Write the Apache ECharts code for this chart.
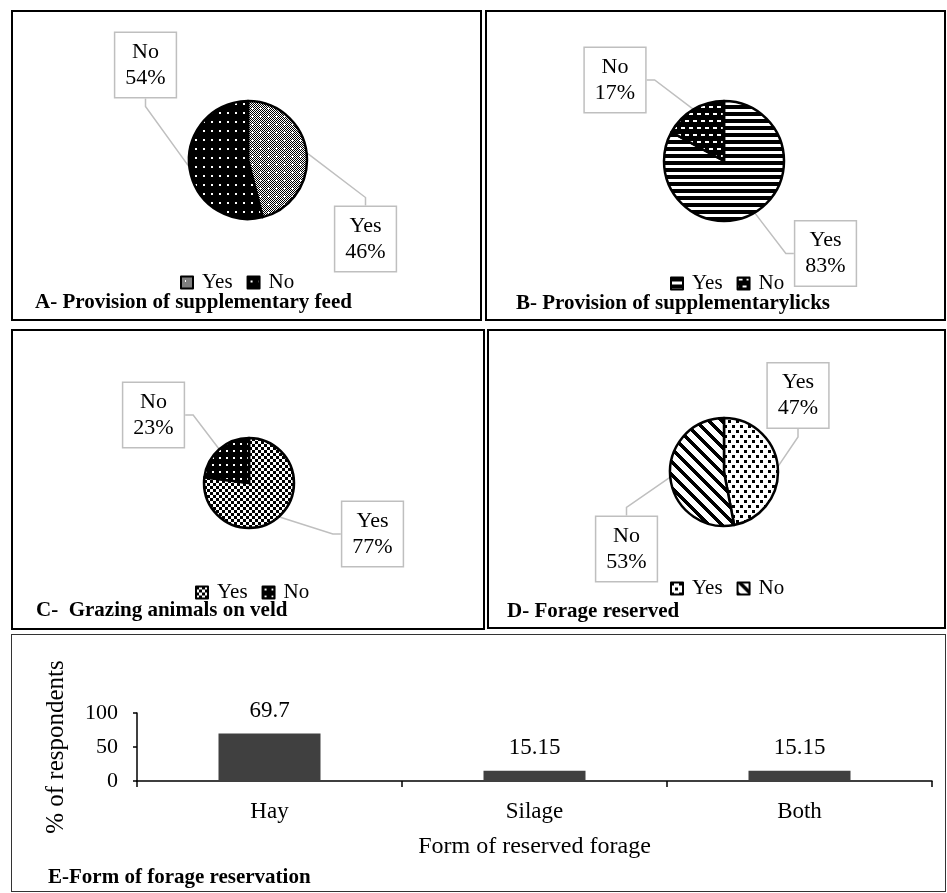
<!DOCTYPE html>
<html><head><meta charset="utf-8">
<script src="https://cdn.jsdelivr.net/npm/echarts@6/dist/echarts.min.js"></script>
<style>
html,body{margin:0;padding:0;background:#fff;}
#wrap{position:relative;width:947px;height:893px;overflow:hidden;background:#fff;}
.frame{position:absolute;box-sizing:border-box;border:2px solid #000;}
.chart{position:absolute;left:0;top:0;width:947px;height:893px;}
</style></head><body>
<div id="wrap">
<div class="frame" style="left:11px;top:10px;width:471px;height:311px"></div>
<div class="frame" style="left:485px;top:10px;width:461px;height:311px"></div>
<div class="frame" style="left:11px;top:329px;width:474px;height:301px"></div>
<div class="frame" style="left:487px;top:329px;width:459px;height:300px"></div>
<div class="frame" style="left:11px;top:634px;width:935px;height:258px;border:1.5px solid #333"></div>
<div id="cA" class="chart"></div>
<div id="cB" class="chart"></div>
<div id="cC" class="chart"></div>
<div id="cD" class="chart"></div>
<div id="cE" class="chart"></div>
</div>
<script>
// ---------- data ----------
const sliceNames = ['Yes', 'No'];
const feedValues = [46, 54];
const licksValues = [83, 17];
const grazingValues = [77, 23];
const reservedValues = [47, 53];
const forageForms = ['Hay', 'Silage', 'Both'];
const forageShares = [69.7, 15.15, 15.15];
const titles = {
  A: 'A- Provision of supplementary feed',
  B: 'B- Provision of supplementarylicks',
  C: 'C-  Grazing animals on veld',
  D: 'D- Forage reserved',
  E: 'E-Form of forage reservation'
};

const FONT = '"Liberation Serif", "Times New Roman", serif';

// ---------- fill patterns ----------
function tile(w, h, fn) {
  const c = document.createElement('canvas');
  c.width = w; c.height = h;
  const ctx = c.getContext('2d');
  const img = ctx.createImageData(w, h);
  for (let y = 0; y < h; y++) for (let x = 0; x < w; x++) {
    const v = fn(x, y) ? 0 : 255;
    const i = (y * w + x) * 4;
    img.data[i] = img.data[i + 1] = img.data[i + 2] = v;
    img.data[i + 3] = 255;
  }
  ctx.putImageData(img, 0, 0);
  return { image: c, repeat: 'repeat' };
}
const pat = {
  aYes: tile(8, 8, (x, y) => {
    const plus = (x === 4 && y >= 3 && y <= 5) || (y === 4 && x >= 3 && x <= 5);
    return !plus && (x + y) % 2 === 0;
  }),
  aNo: tile(8, 9, (x, y) => !(x >= 3 && x <= 4 && y >= 4 && y <= 5)),
  bYes: tile(8, 7, (x, y) => y < 4),
  bNo: tile(8, 14, (x, y) => !((x >= 1 && x <= 4 && y >= 1 && y <= 2) || (((x - 5 + 8) % 8) < 4 && y >= 8 && y <= 9))),
  cYes: tile(6, 6, (x, y) => (Math.floor(x / 3) + Math.floor(y / 3)) % 2 === 0),
  cNo: tile(7, 7, (x, y) => !(x >= 2 && x <= 3 && y >= 2 && y <= 3)),
  dYes: tile(8, 10, (x, y) => (x <= 2 && y <= 2) || (x >= 4 && x <= 6 && y >= 5 && y <= 7)),
  dNo: tile(13, 13, (x, y) => (((x - y) % 13) + 13) % 13 < 5)
};

// ---------- pie builder ----------
function pieOption(cfg) {
  return {
    animation: false,
    legend: {
      left: cfg.legendLeft, top: cfg.legendTop, padding: 0,
      itemWidth: 12, itemHeight: 12, itemGap: 14, icon: 'rect',
      selectedMode: false, data: sliceNames,
      itemStyle: { borderColor: '#000', borderWidth: 2 },
      textStyle: { fontFamily: FONT, fontSize: 21, color: '#000', padding: [0, 0, 0, 4] }
    },
    graphic: [{
      type: 'text', left: cfg.titleLeft, top: cfg.titleTop,
      style: { text: cfg.title, font: 'bold 21px "Liberation Serif"', fill: '#000' }
    }],
    series: [{
      type: 'pie', center: cfg.center, radius: cfg.radius,
      startAngle: 90, clockwise: true, avoidLabelOverlap: false, silent: true,
      data: sliceNames.map((n, i) => ({ name: n, value: cfg.values[i], itemStyle: { color: cfg.patterns[i] } })),
      itemStyle: { borderColor: '#000', borderWidth: 2.5 },
      label: {
        show: true, position: 'outside', formatter: '{b}\n{c}%',
        fontFamily: FONT, fontSize: 22, lineHeight: 26, color: '#000',
        backgroundColor: '#fff', borderColor: '#bfbfbf', borderWidth: 1.5,
        padding: [6, 10], align: 'center'
      },
      labelLine: { show: true, length: 8, length2: 8, lineStyle: { color: '#bfbfbf', width: 1.5 } },
      labelLayout: p => ({ x: cfg.labelPos[p.dataIndex][0], y: cfg.labelPos[p.dataIndex][1], align: 'center', verticalAlign: 'middle' })
    }]
  };
}

echarts.init(document.getElementById('cA')).setOption(pieOption({
  values: feedValues, patterns: [pat.aYes, pat.aNo], center: [248, 160], radius: 59,
  labelPos: [[365.5, 239], [145.5, 65]], legendLeft: 180, legendTop: 272,
  title: titles.A, titleLeft: 35, titleTop: 292
}));
echarts.init(document.getElementById('cB')).setOption(pieOption({
  values: licksValues, patterns: [pat.bYes, pat.bNo], center: [724, 161], radius: 60,
  labelPos: [[825.5, 253.5], [615, 80]], legendLeft: 670, legendTop: 273,
  title: titles.B, titleLeft: 516, titleTop: 293
}));
echarts.init(document.getElementById('cC')).setOption(pieOption({
  values: grazingValues, patterns: [pat.cYes, pat.cNo], center: [249, 483], radius: 45,
  labelPos: [[372.5, 534], [153.5, 415]], legendLeft: 195, legendTop: 582,
  title: titles.C, titleLeft: 36, titleTop: 600
}));
echarts.init(document.getElementById('cD')).setOption(pieOption({
  values: reservedValues, patterns: [pat.dYes, pat.dNo], center: [724, 472], radius: 54,
  labelPos: [[798, 395.5], [626.5, 549]], legendLeft: 670, legendTop: 578,
  title: titles.D, titleLeft: 507, titleTop: 601
}));

// ---------- bar chart ----------
echarts.init(document.getElementById('cE')).setOption({
  animation: false,
  grid: { left: 137, right: 15, top: 713, bottom: 112 },
  xAxis: {
    type: 'category', data: forageForms,
    axisLine: { lineStyle: { color: '#000', width: 1.5 } },
    axisTick: { show: true, length: 6, lineStyle: { color: '#000', width: 1.5 } },
    axisLabel: { fontFamily: FONT, fontSize: 23, color: '#000', margin: 19 },
    name: 'Form of reserved forage', nameLocation: 'middle', nameGap: 54,
    nameTextStyle: { fontFamily: FONT, fontSize: 24, color: '#000' }
  },
  yAxis: {
    type: 'value', min: 0, max: 100, interval: 50,
    splitLine: { show: false },
    axisLine: { show: true, lineStyle: { color: '#000', width: 1.5 } },
    axisTick: { show: true, length: 4, lineStyle: { color: '#000', width: 1.5 } },
    axisLabel: { fontFamily: FONT, fontSize: 22, color: '#000', margin: 19 },
    name: '% of respondents', nameLocation: 'middle', nameGap: 68,
    nameTextStyle: { fontFamily: FONT, fontSize: 25, color: '#000' }
  },
  graphic: [{
    type: 'text', left: 48, top: 867,
    style: { text: titles.E, font: 'bold 21px "Liberation Serif"', fill: '#000' }
  }],
  series: [{
    type: 'bar', data: forageShares, barWidth: 102, silent: true,
    itemStyle: { color: '#404040' },
    label: { show: true, position: 'top', distance: 11, fontFamily: FONT, fontSize: 23, color: '#000' }
  }]
});
</script>
</body></html>
